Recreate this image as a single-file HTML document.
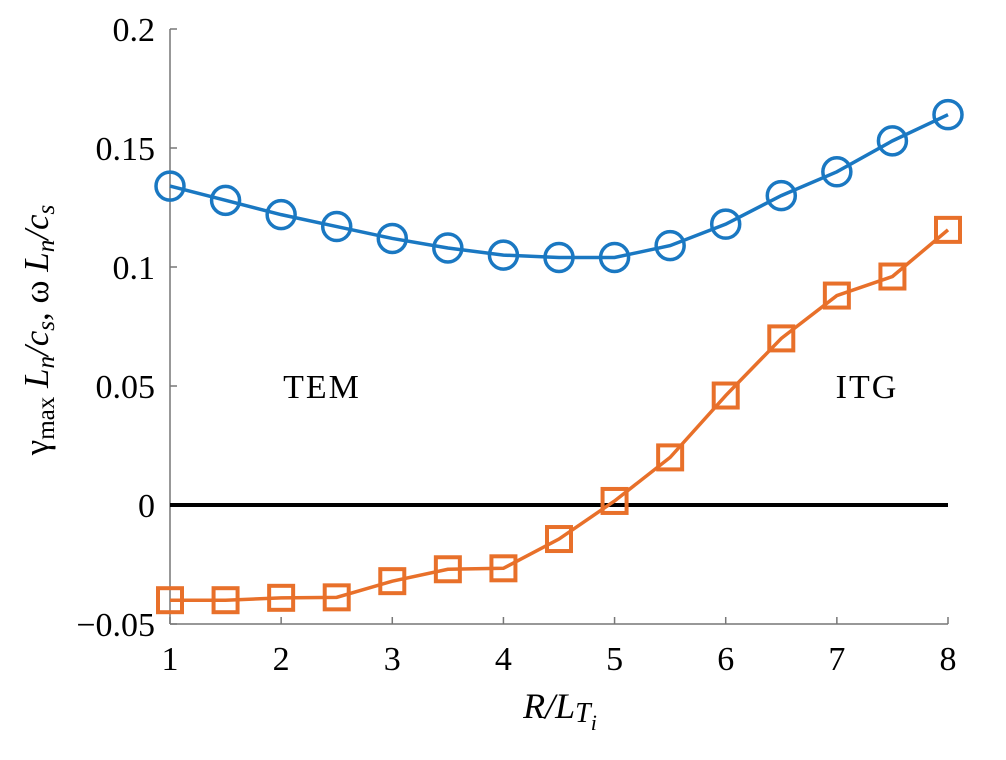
<!DOCTYPE html>
<html><head><meta charset="utf-8"><style>
body{margin:0;background:#fff}
svg{display:block;font-family:"Liberation Serif",serif}
</style></head><body>
<svg id="chart" width="1006" height="760" viewBox="0 0 1006 760">
<g id="axes"></g>
<g id="series"></g>
<text x="322" y="398" font-size="34" letter-spacing="2" text-anchor="middle">TEM</text>
<text x="867" y="398" font-size="34" letter-spacing="2" text-anchor="middle">ITG</text>
<text x="560" y="718" font-size="36" text-anchor="middle" font-style="italic">R/L<tspan font-size="28" dy="4">T</tspan><tspan font-size="22" dy="8">i</tspan></text>
<text transform="translate(48,330) rotate(-90)" font-size="35" text-anchor="middle">γ<tspan font-size="25" dy="6">max</tspan><tspan dy="-6" font-style="italic"> L</tspan><tspan font-style="italic" font-size="25" dy="6">n</tspan><tspan dy="-6" font-style="italic">/c</tspan><tspan font-style="italic" font-size="25" dy="6">s</tspan><tspan dy="-6">, ω </tspan><tspan font-style="italic">L</tspan><tspan font-style="italic" font-size="25" dy="6">n</tspan><tspan dy="-6" font-style="italic">/c</tspan><tspan font-style="italic" font-size="25" dy="6">s</tspan></text>
</svg>
<script>
const xValues=[1,1.5,2,2.5,3,3.5,4,4.5,5,5.5,6,6.5,7,7.5,8];
const growthRate=[0.134,0.128,0.122,0.117,0.112,0.108,0.105,0.104,0.104,0.109,0.118,0.130,0.140,0.153,0.164];
const frequency=[-0.040,-0.040,-0.039,-0.0388,-0.032,-0.027,-0.0266,-0.0143,0.0017,0.020,0.046,0.070,0.088,0.096,0.1156];
const xTicks=[1,2,3,4,5,6,7,8];
const yTicks=[-0.05,0,0.05,0.1,0.15,0.2];
const yTickLabels=["\u22120.05","0","0.05","0.1","0.15","0.2"];
const NS="http://www.w3.org/2000/svg";
const X=v=>170+(v-1)*(948-170)/7;
const Y=v=>505-v*(505-29)/0.2;
function mk(tag,attrs,parent){const e=document.createElementNS(NS,tag);for(const k in attrs)e.setAttribute(k,attrs[k]);parent.appendChild(e);return e;}
const axes=document.getElementById('axes'),ser=document.getElementById('series');
let a=mk('line',{x1:170,y1:Y(0.2),x2:170,y2:Y(-0.05),stroke:'#777','stroke-width':1.5},axes);


a=mk('line',{x1:170,y1:Y(-0.05),x2:948,y2:Y(-0.05),stroke:'#777','stroke-width':1.5},axes);


xTicks.forEach(t=>{
 let l=mk('line',{x1:X(t),y1:Y(-0.05),x2:X(t),y2:Y(-0.05)-7,stroke:'#777','stroke-width':1.5},axes);
 
 
 let tx=mk('text',{x:X(t),y:Y(-0.05)+46,'font-size':34,'text-anchor':'middle'},axes);tx.textContent=t;
 
 
});
yTicks.forEach((t,i)=>{
 let l=mk('line',{x1:170,y1:Y(t),x2:177,y2:Y(t),stroke:'#777','stroke-width':1.5},axes);
 
 
 let tx=mk('text',{x:155,y:Y(t)+12,'font-size':34,'text-anchor':'end'},axes);tx.textContent=yTickLabels[i];
 
 
});
a=mk('line',{x1:170,y1:Y(0),x2:948,y2:Y(0),stroke:'#000','stroke-width':4},axes);


const blue='#1a78c2',orange='#e8702a';
let p=mk('polyline',{points:xValues.map((x,i)=>X(x)+','+Y(growthRate[i])).join(' '),fill:'none',stroke:blue,'stroke-width':3.5},ser);


xValues.forEach((x,i)=>{
 let c=mk('circle',{cx:X(x),cy:Y(growthRate[i]),r:14,fill:'none',stroke:blue,'stroke-width':3.5},ser);
 
 
});
p=mk('polyline',{points:xValues.map((x,i)=>X(x)+','+Y(frequency[i])).join(' '),fill:'none',stroke:orange,'stroke-width':3.5},ser);


xValues.forEach((x,i)=>{
 let r=mk('rect',{x:X(x)-12,y:Y(frequency[i])-12,width:24,height:24,fill:'none',stroke:orange,'stroke-width':4},ser);
 
 
});
</script>
</body></html>
